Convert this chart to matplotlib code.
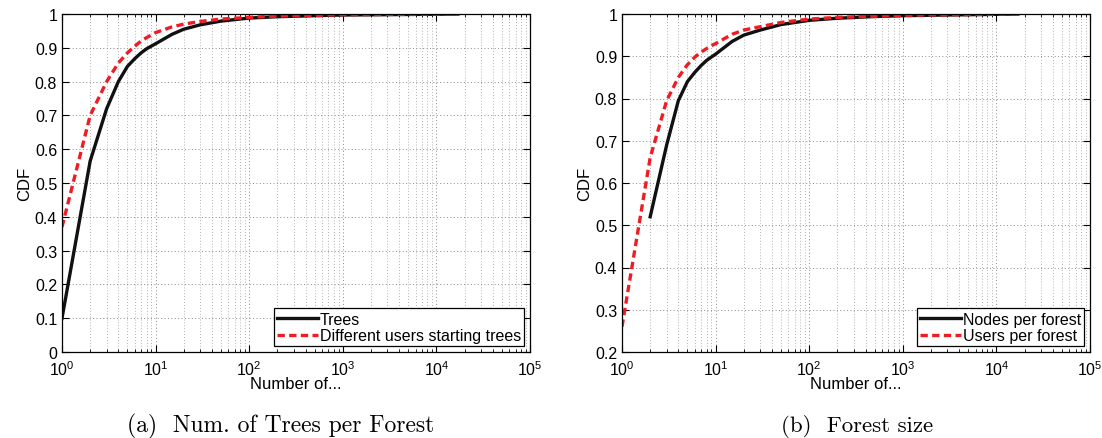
import matplotlib
matplotlib.use('Agg')
import matplotlib.pyplot as plt
import numpy as np
from matplotlib.ticker import LogLocator, NullFormatter

plt.rcParams['font.family'] = ['Liberation Sans', 'DejaVu Sans']
plt.rcParams['mathtext.fontset'] = 'custom'
plt.rcParams['mathtext.rm'] = 'Liberation Sans'
plt.rcParams['mathtext.it'] = 'Liberation Sans'
plt.rcParams['axes.formatter.use_mathtext'] = True

# (a) Num. of Trees per Forest
trees_x = [1, 2, 3, 4, 5, 6, 7, 8, 9, 10, 15, 20, 30, 50, 100, 200, 500, 1000, 3000, 17000]
trees_y = [0.10, 0.565, 0.72, 0.80, 0.845, 0.868, 0.885, 0.897, 0.905, 0.912, 0.94, 0.955,
           0.968, 0.979, 0.988, 0.992, 0.995, 0.997, 0.998, 1.0]
users_trees_x = [1, 2, 3, 4, 5, 6, 7, 8, 9, 10, 15, 20, 30, 50, 100, 200, 500, 1000, 17000]
users_trees_y = [0.37, 0.70, 0.80, 0.855, 0.885, 0.905, 0.92, 0.93, 0.938, 0.945, 0.962, 0.97,
                 0.978, 0.985, 0.99, 0.994, 0.996, 0.998, 1.0]

# (b) Forest size
nodes_x = [2, 3, 4, 5, 6, 7, 8, 9, 10, 15, 20, 30, 50, 100, 200, 500, 1000, 17000]
nodes_y = [0.52, 0.69, 0.795, 0.84, 0.862, 0.878, 0.89, 0.898, 0.905, 0.935, 0.95, 0.962,
           0.975, 0.985, 0.99, 0.994, 0.996, 1.0]
users_x = [1, 2, 3, 4, 5, 6, 7, 8, 9, 10, 15, 20, 30, 50, 100, 200, 1000, 17000]
users_y = [0.26, 0.66, 0.795, 0.85, 0.88, 0.898, 0.91, 0.918, 0.925, 0.93, 0.952, 0.962,
           0.97, 0.98, 0.988, 0.992, 0.997, 1.0]

W, H = 1102, 439
fig = plt.figure(figsize=(W / 100, H / 100), dpi=100)
ax1 = fig.add_axes([62 / W, (H - 353) / H, 468 / W, 338 / H])
ax2 = fig.add_axes([622 / W, (H - 353) / H, 468 / W, 338 / H])


def style(ax, ymin, labels):
    ax.set_xscale('log')
    ax.set_xlim(1, 1e5)
    ax.set_ylim(ymin, 1)
    ax.set_yticks(np.round(np.arange(ymin, 1.001, 0.1), 1))
    ax.set_yticklabels(labels)
    ax.xaxis.set_major_locator(LogLocator(base=10, numticks=10))
    ax.xaxis.set_minor_locator(LogLocator(base=10, subs=np.arange(2, 10), numticks=20))
    ax.xaxis.set_minor_formatter(NullFormatter())
    ax.grid(True, which='major', linestyle=(0, (1, 2.5)), color='#888888', linewidth=0.7)
    ax.grid(True, which='minor', axis='x', linestyle=(0, (1, 2.5)), color='#999999', linewidth=0.6)
    ax.tick_params(which='both', direction='in', top=True, right=True, labelsize=11.5)
    ax.tick_params(axis='x', which='major', pad=5)
    ax.tick_params(which='major', length=5)
    ax.tick_params(which='minor', length=2.5)
    ax.set_xlabel('Number of...', fontsize=12, labelpad=-1)
    ax.set_ylabel('CDF', fontsize=12, labelpad=2)
    for s in ax.spines.values():
        s.set_linewidth(0.9)


style(ax1, 0.0, ['0', '0.1', '0.2', '0.3', '0.4', '0.5', '0.6', '0.7', '0.8', '0.9', '1'])
style(ax2, 0.2, ['0.2', '0.3', '0.4', '0.5', '0.6', '0.7', '0.8', '0.9', '1'])

ax1.plot(trees_x, trees_y, color='#111111', linewidth=2.4, label='Trees')
ax1.plot(users_trees_x, users_trees_y, color='#ee1c24', linestyle='--', linewidth=2.4,
         dashes=(2.2, 1.3), label='Different users starting trees')
ax2.plot(nodes_x, nodes_y, color='#111111', linewidth=2.4, label='Nodes per forest')
ax2.plot(users_x, users_y, color='#ee1c24', linestyle='--', linewidth=2.4,
         dashes=(2.2, 1.3), label='Users per forest')

for ax in (ax1, ax2):
    leg = ax.legend(loc='lower right', fontsize=11.5, fancybox=False, framealpha=1,
                    edgecolor='black', handlelength=2.6, handletextpad=0.1,
                    borderpad=0.2, labelspacing=0.1, borderaxespad=0.35)
    leg.get_frame().set_linewidth(0.9)

fig.text(281 / W, 1 - 432 / H, '(a)  Num. of Trees per Forest', ha='center', va='baseline',
         family='cmr10', fontsize=17)
fig.text(857 / W, 1 - 432 / H, '(b)  Forest size', ha='center', va='baseline',
         family='cmr10', fontsize=16.5)

fig.savefig('out.png', dpi=100)
